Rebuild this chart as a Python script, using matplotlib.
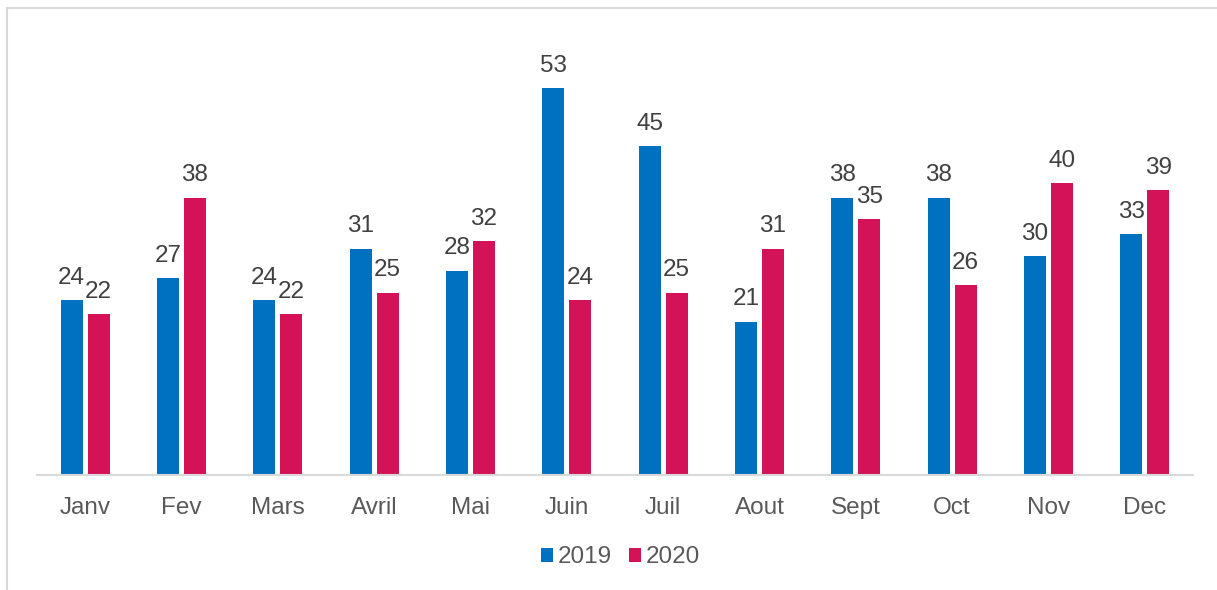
import numpy as np
import matplotlib.pyplot as plt
from matplotlib.lines import Line2D

plt.rcParams['font.family'] = ['Liberation Sans', 'DejaVu Sans']

mois = ['Janv', 'Fev', 'Mars', 'Avril', 'Mai', 'Juin', 'Juil', 'Aout', 'Sept', 'Oct', 'Nov', 'Dec']
v2019 = [24, 27, 24, 31, 28, 53, 45, 21, 38, 38, 30, 33]
v2020 = [22, 38, 22, 25, 32, 24, 25, 31, 35, 26, 40, 39]

bleu = '#0070C0'
rose = '#D31257'

fig = plt.figure(figsize=(12.17, 5.9), dpi=100)
ax = fig.add_axes([0.0304, 0.1949, 0.9499, 0.7424])

x = np.arange(len(mois))
w = 0.23
off = 0.14
b1 = ax.bar(x - off, v2019, w, color=bleu, label='2019')
b2 = ax.bar(x + off, v2020, w, color=rose, label='2020')

for bars, vals in ((b1, v2019), (b2, v2020)):
    for rect, v in zip(bars, vals):
        ax.annotate(str(v), (rect.get_x() + rect.get_width() / 2, v),
                    xytext=(0, 16), textcoords='offset points',
                    ha='center', va='center', fontsize=17.5, color='#404040')

ax.set_xlim(-0.5, len(mois) - 0.5)
ax.set_ylim(0, 60)
ax.set_xticks(x)
ax.set_xticklabels(mois, fontsize=17.5, color='#595959')
ax.tick_params(axis='x', length=0, pad=15.5)
ax.set_yticks([])
for s in ('top', 'right', 'left'):
    ax.spines[s].set_visible(False)
ax.spines['bottom'].set_color('#D9D9D9')
ax.spines['bottom'].set_linewidth(1.5)

ax.legend(handles=[b1, b2], loc='center', bbox_to_anchor=(0.505, -0.188),
          ncol=2, frameon=False, fontsize=17.5, handlelength=0.5, handleheight=0.5,
          handletextpad=0.2, columnspacing=0.7, labelcolor='#595959')

# cadre du graphique (haut et gauche)
fig.add_artist(Line2D([0.0057, 1.0], [0.986, 0.986], transform=fig.transFigure,
                      color='#D9D9D9', lw=1.5))
fig.add_artist(Line2D([0.0057, 0.0057], [0.0, 0.986], transform=fig.transFigure,
                      color='#D9D9D9', lw=1.5))

fig.savefig('out.png', dpi=100)
